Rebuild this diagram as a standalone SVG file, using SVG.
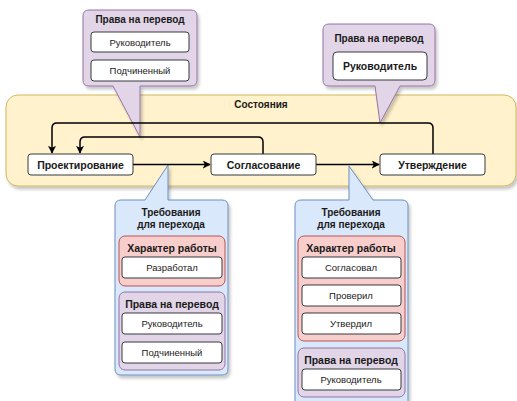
<svg xmlns="http://www.w3.org/2000/svg" width="517" height="401" viewBox="0 0 517 401">
<defs>
<filter id="sh" x="-10%" y="-10%" width="130%" height="130%">
<feDropShadow dx="2" dy="3" stdDeviation="1.5" flood-color="#000" flood-opacity="0.22"/>
</filter>
<marker id="arr" viewBox="0 0 10 10" refX="9" refY="5" markerWidth="8" markerHeight="8" markerUnits="userSpaceOnUse" orient="auto">
<path d="M0,0 L10,5 L0,10 L2.5,5 Z" fill="#000"/>
</marker>
</defs>
<style>
text{font-family:"Liberation Sans",Arial,sans-serif;fill:#1a1a1a;text-anchor:middle}
.t{font-size:10px;font-weight:bold}
.st{font-size:10.5px;font-weight:bold}
.s{font-size:9.5px}
.b{fill:#fff;stroke:#36393d;stroke-width:1}
.pu{fill:#e1d5e7;stroke:#9673a6;stroke-width:1}
.bl{fill:#dae8fc;stroke:#6c8ebf;stroke-width:1}
.rd{fill:#f8cecc;stroke:#b85450;stroke-width:1}
.ye{fill:#fff2cc;stroke:#d6b656;stroke-width:1}
.c{fill:none;stroke:#000;stroke-width:1.5}
</style>

<g id="states-container">
<rect class="ye" x="6" y="95" width="510" height="91" rx="12" filter="url(#sh)"/>
<text class="t" x="261" y="108">Состояния</text>
</g>

<g id="callout-top-left">
<path class="pu" filter="url(#sh)" d="M89,10 H191 Q197,10 197,16 V80 Q197,86 191,86 H140 V137 L113,86 H89 Q83,86 83,80 V16 Q83,10 89,10 Z"/>
<text class="t" x="140" y="23">Права на перевод</text>
<rect class="b" x="91" y="32" width="98" height="20" rx="3"/>
<text class="s" x="140" y="45.5">Руководитель</text>
<rect class="b" x="91" y="60" width="98" height="21" rx="3"/>
<text class="s" x="140" y="74">Подчиненный</text>
</g>

<g id="callout-top-right">
<path class="pu" filter="url(#sh)" d="M329,24 H429 Q435,24 435,30 V80 Q435,86 429,86 H400 L380,123 L375,86 H329 Q323,86 323,80 V30 Q323,24 329,24 Z"/>
<text class="t" x="379" y="42">Права на перевод</text>
<rect class="b" x="333" y="52" width="94" height="28" rx="4"/>
<text class="st" x="380" y="70">Руководитель</text>
</g>

<g id="callout-bottom-left">
<path class="bl" filter="url(#sh)" d="M121,200 H145 L168,165 V200 H222 Q228,200 228,206 V369 Q228,375 222,375 H121 Q115,375 115,369 V206 Q115,200 121,200 Z"/>
<text class="t" x="171" y="216">Требования</text>
<text class="t" x="171" y="228">для перехода</text>
<rect class="rd" x="119" y="236" width="106" height="50" rx="6"/>
<text class="st" x="172" y="252">Характер работы</text>
<rect class="b" x="122" y="257" width="100" height="21" rx="3"/>
<text class="s" x="172" y="271">Разработал</text>
<rect class="pu" x="119" y="292" width="106" height="78" rx="6"/>
<text class="st" x="172" y="308">Права на перевод</text>
<rect class="b" x="122" y="313" width="100" height="21" rx="3"/>
<text class="s" x="172" y="327">Руководитель</text>
<rect class="b" x="122" y="342" width="100" height="21" rx="3"/>
<text class="s" x="172" y="356">Подчиненный</text>
</g>

<g id="callout-bottom-right">
<path class="bl" filter="url(#sh)" d="M301,200 H349 V166 L373,200 H402 Q408,200 408,206 V420 H295 V206 Q295,200 301,200 Z"/>
<text class="t" x="351" y="216">Требования</text>
<text class="t" x="351" y="228">для перехода</text>
<rect class="rd" x="298" y="236" width="107" height="105" rx="6"/>
<text class="st" x="351" y="252">Характер работы</text>
<rect class="b" x="302" y="257" width="99" height="21" rx="3"/>
<text class="s" x="351" y="271">Согласовал</text>
<rect class="b" x="302" y="285" width="99" height="21" rx="3"/>
<text class="s" x="351" y="299">Проверил</text>
<rect class="b" x="302" y="313" width="99" height="21" rx="3"/>
<text class="s" x="351" y="327">Утвердил</text>
<rect class="pu" x="298" y="348" width="107" height="49" rx="6"/>
<text class="st" x="351" y="364">Права на перевод</text>
<rect class="b" x="302" y="369" width="99" height="21" rx="3"/>
<text class="s" x="351" y="383">Руководитель</text>
</g>

<g id="connectors">
<path class="c" d="M133,164.5 H210" marker-end="url(#arr)"/>
<path class="c" d="M316,164.5 H379" marker-end="url(#arr)"/>
<path class="c" d="M433,154 V128 Q433,123 428,123 H57 Q52,123 52,128 V153" marker-end="url(#arr)"/>
<path class="c" d="M263,154 V142 Q263,137 258,137 H85 Q80,137 80,142 V153" marker-end="url(#arr)"/>
</g>

<g id="state-design">
<rect class="b" x="28" y="154" width="105" height="21" rx="3"/>
<text class="st" x="80.5" y="168.5">Проектирование</text>
</g>
<g id="state-approval">
<rect class="b" x="211" y="154" width="105" height="21" rx="3"/>
<text class="st" x="263.5" y="168.5">Согласование</text>
</g>
<g id="state-confirm">
<rect class="b" x="380" y="154" width="105" height="21" rx="3"/>
<text class="st" x="432.5" y="168.5">Утверждение</text>
</g>
</svg>
